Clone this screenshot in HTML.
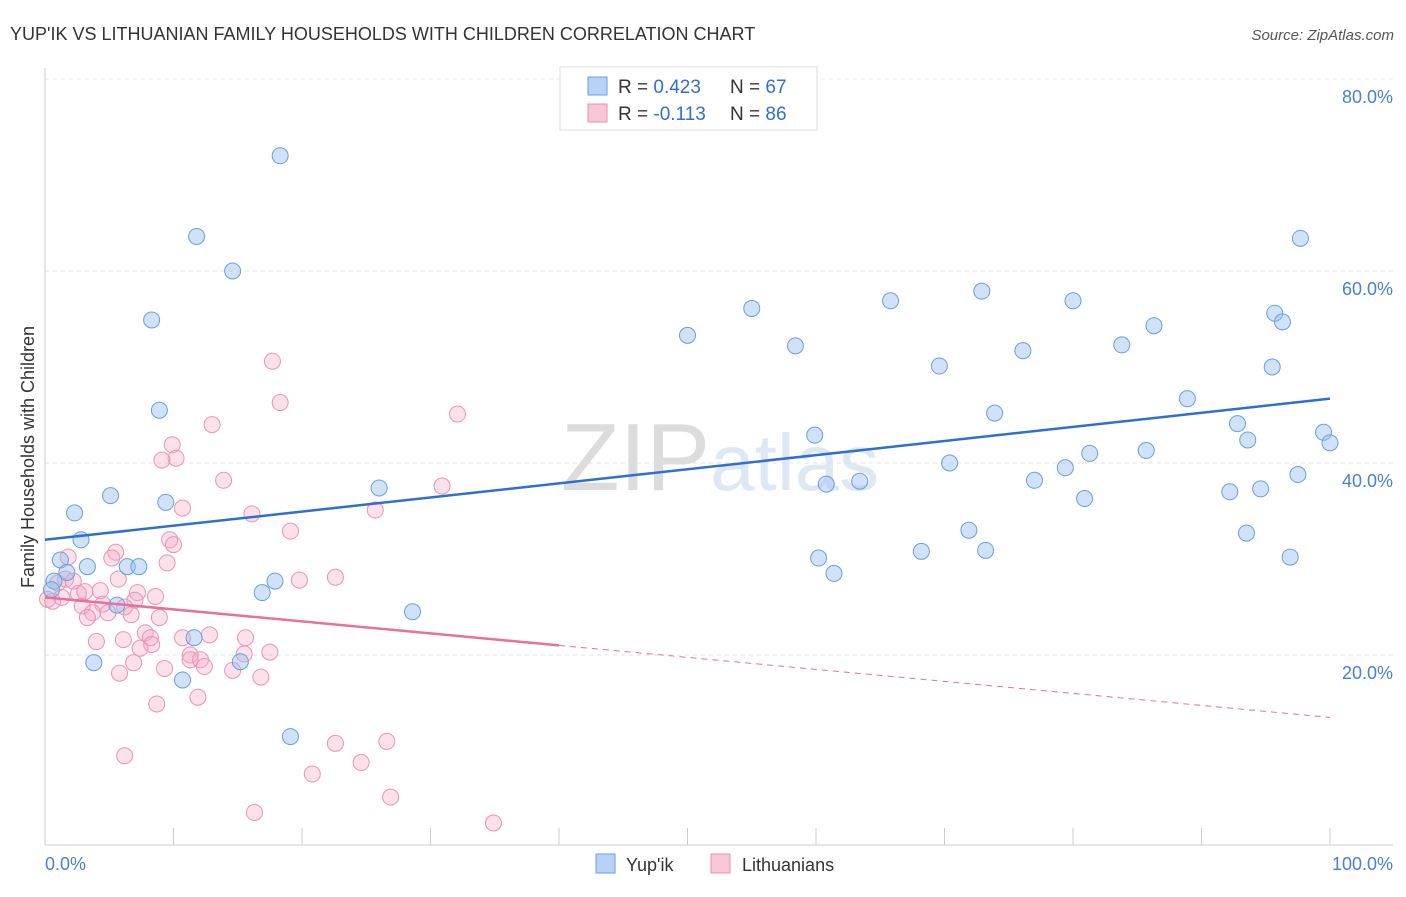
<!DOCTYPE html>
<html><head><meta charset="utf-8"><style>
body{margin:0;background:#fff;font-family:"Liberation Sans",sans-serif;}
svg text{font-family:"Liberation Sans",sans-serif;}
</style></head><body>
<svg id="chart" width="1406" height="892" xmlns="http://www.w3.org/2000/svg">
<text x="10" y="40" font-size="18" fill="#333">YUP'IK VS LITHUANIAN FAMILY HOUSEHOLDS WITH CHILDREN CORRELATION CHART</text>
<text x="1394" y="40" font-size="15" fill="#555" text-anchor="end" font-style="italic">Source: ZipAtlas.com</text>
<text x="720" y="490" font-size="96" fill="#e6e6e6" text-anchor="middle" font-family="Liberation Serif"><tspan fill="#dcdcdc">ZIP</tspan><tspan fill="#dde8f5" font-family="Liberation Sans" font-size="80">atlas</tspan></text>
<g id="grid"></g>
<g id="axes"></g>
<g id="pink-points"></g>
<g id="blue-points"></g>
<g id="lines"></g>
<text transform="translate(34,457) rotate(-90)" font-size="18" fill="#333" text-anchor="middle">Family Households with Children</text>
<text x="45" y="870" font-size="18" fill="#4a7fd4">0.0%</text>
<text x="1393" y="870" font-size="18" fill="#4a7fd4" text-anchor="end">100.0%</text>
<g>
<rect x="560" y="67" width="257" height="63" fill="#fff" stroke="#ddd"/>
<rect x="588" y="77" width="19" height="18" fill="#b8d2f5" stroke="#6a9ee0"/>
<rect x="588" y="104" width="19" height="18" fill="#f9c6d6" stroke="#e890b0"/>
<text x="618" y="93" font-size="19" fill="#333">R = <tspan fill="#2f6fd0">0.423</tspan></text>
<text x="730" y="93" font-size="19" fill="#333">N = <tspan fill="#2f6fd0">67</tspan></text>
<text x="618" y="120" font-size="19" fill="#333">R = <tspan fill="#2f6fd0">-0.113</tspan></text>
<text x="730" y="120" font-size="19" fill="#333">N = <tspan fill="#2f6fd0">86</tspan></text>
</g>
<g>
<rect x="596" y="854" width="19" height="19" fill="#b8d2f5" stroke="#6a9ee0"/>
<text x="626" y="871" font-size="18" fill="#333">Yup'ik</text>
<rect x="711" y="854" width="19" height="19" fill="#f9c6d6" stroke="#e890b0"/>
<text x="742" y="871" font-size="18" fill="#333">Lithuanians</text>
</g>
</svg>
<script>
const yTicks=[20,40,60,80];
const yTickLabels=["20.0%","40.0%","60.0%","80.0%"];
const xTicks=[0,10,20,30,40,50,60,70,80,90,100];
const blueX=[18.3,11.8,14.6,8.3,8.9,5.1,9.4,2.3,2.8,1.2,3.3,6.4,7.3,1.7,0.7,0.5,5.6,3.8,11.6,10.7,15.2,17.9,16.9,19.1,26.0,28.6,50.0,55.0,58.4,59.9,60.8,60.2,61.4,63.4,65.8,68.2,69.6,70.4,71.9,72.9,73.2,73.9,76.1,77.0,79.4,80.0,80.9,81.3,83.8,85.7,86.3,88.9,92.2,92.8,93.6,93.5,94.6,95.5,95.7,96.3,96.9,97.5,97.7,99.5,100];
const blueY=[72.0,63.6,60.0,54.9,45.5,36.6,35.9,34.8,32.0,29.9,29.2,29.2,29.2,28.6,27.7,26.8,25.2,19.2,21.8,17.4,19.3,27.7,26.5,11.5,37.4,24.5,53.3,56.1,52.2,42.9,37.8,30.1,28.5,38.1,56.9,30.8,50.1,40.0,33.0,57.9,30.9,45.2,51.7,38.2,39.5,56.9,36.3,41.0,52.3,41.3,54.3,46.7,37.0,44.1,42.4,32.7,37.3,50.0,55.6,54.7,30.2,38.8,63.4,43.2,42.1];
const pinkX=[17.7,18.3,32.1,13.0,9.9,10.2,9.1,13.9,30.9,10.7,16.1,25.7,19.1,9.7,10.0,5.5,5.2,1.8,9.5,22.6,19.8,5.7,1.6,2.2,1.0,4.3,2.6,7.2,8.6,7.0,0.2,0.6,4.5,2.9,6.2,3.7,4.9,3.3,6.7,8.9,7.8,8.2,6.1,4.0,10.7,12.8,15.6,8.3,7.4,11.3,11.3,12.1,12.4,17.5,15.5,9.3,6.9,5.8,14.6,16.8,11.9,8.7,6.2,22.6,26.6,20.8,24.6,26.9,16.3,34.9,3.1,1.3];
const pinkY=[50.6,46.3,45.1,44.0,41.9,40.5,40.3,38.2,37.6,35.3,34.7,35.1,32.9,32.0,31.5,30.7,30.1,30.2,29.6,28.1,27.8,27.9,27.9,27.7,27.5,26.7,26.4,26.5,26.1,25.7,25.8,25.6,25.3,25.1,25.0,24.4,24.4,23.9,24.2,23.9,22.3,21.8,21.6,21.4,21.8,22.1,21.8,21.1,20.7,20.0,19.5,19.5,18.8,20.3,20.1,18.6,19.2,18.1,18.4,17.7,15.6,14.9,9.5,10.8,11.0,7.6,8.8,5.2,3.6,2.5,26.6,26.0];
const blueLine=[32.0,46.7];
const pinkLine=[26.0,13.5];
const pinkSolidEnd=40;

const NS="http://www.w3.org/2000/svg";
const xs=v=>45+v*12.85;
const ys=v=>847-v*9.6;
function mk(tag,attrs,parent){const e=document.createElementNS(NS,tag);for(const k in attrs)e.setAttribute(k,attrs[k]);parent.appendChild(e);return e;}
const grid=document.getElementById('grid'),axes=document.getElementById('axes');
yTicks.forEach((t,i)=>{
  const l=mk('line',{x1:45,x2:1393,y1:ys(t),y2:ys(t),stroke:'#e0e0e0','stroke-dasharray':'4,4'},grid);
  
  
  const tx=mk('text',{x:1393,y:ys(t)+24,'font-size':18,fill:'#4a7fd4','text-anchor':'end'},grid);
  tx.textContent=yTickLabels[i];
  
  
});
const topGrid=mk('line',{x1:45,x2:1393,y1:79,y2:79,stroke:'#e8e8e8','stroke-dasharray':'4,4'},grid);


const xa=mk('line',{x1:45,x2:1393,y1:845,y2:845,stroke:'#ccc'},axes);


const ya=mk('line',{x1:45,x2:45,y1:68,y2:845,stroke:'#ccc'},axes);


xTicks.forEach(t=>{
  const l=mk('line',{x1:xs(t),x2:xs(t),y1:828,y2:845,stroke:'#ccc'},axes);
  
  
});
const pg=document.getElementById('pink-points');
pinkX.forEach((x,i)=>{
  const c=mk('circle',{cx:xs(x),cy:ys(pinkY[i]),r:8,fill:'rgba(246,170,198,0.35)',stroke:'#ea93b3','stroke-width':1},pg);
  
  
});
const bg=document.getElementById('blue-points');
blueX.forEach((x,i)=>{
  const c=mk('circle',{cx:xs(x),cy:ys(blueY[i]),r:8,fill:'rgba(150,190,240,0.45)',stroke:'#6a9ee0','stroke-width':1},bg);
  
  
});
const lg=document.getElementById('lines');
const bl=mk('line',{x1:xs(0),y1:ys(blueLine[0]),x2:xs(100),y2:ys(blueLine[1]),stroke:'#2f6fd0','stroke-width':2.5},lg);


const pAt=x=>pinkLine[0]+(pinkLine[1]-pinkLine[0])*x/100;
const ps=mk('line',{x1:xs(0),y1:ys(pAt(0)),x2:xs(pinkSolidEnd),y2:ys(pAt(pinkSolidEnd)),stroke:'#e8709a','stroke-width':2.5},lg);


const pd=mk('line',{x1:xs(pinkSolidEnd),y1:ys(pAt(pinkSolidEnd)),x2:xs(100),y2:ys(pAt(100)),stroke:'#e8709a','stroke-width':1,'stroke-dasharray':'6,5'},lg);


</script>
</body></html>
